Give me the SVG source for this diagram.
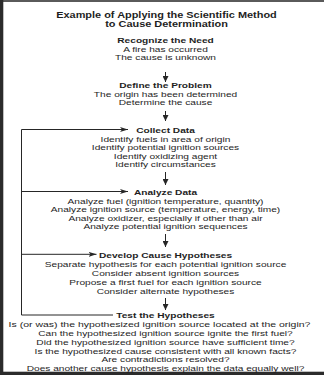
<svg xmlns="http://www.w3.org/2000/svg" width="324" height="375" viewBox="0 0 324 375">
<style>
text{font-family:"Liberation Sans",Arial,sans-serif;fill:#1e1e1e;text-anchor:middle;font-size:7.5px}
.h{font-weight:bold}
.t{font-weight:bold;font-size:8.2px}
.ln{stroke:#262626;stroke-width:1;fill:none}
</style>
<defs>
<marker id="down" markerUnits="userSpaceOnUse" markerWidth="6" markerHeight="6" refX="6" refY="3" orient="auto"><path d="M0,0 L6,3 L0,6 z" fill="#262626"/></marker>
<marker id="barb" markerUnits="userSpaceOnUse" markerWidth="8" markerHeight="6" refX="8" refY="3" orient="auto"><path d="M0,0.5 L8,3 L0,5.5 L2,3 z" fill="#262626"/></marker>
</defs>
<rect width="324" height="375" fill="#ffffff"/>
<rect x="0" y="0" width="324" height="2" fill="#5a5a5a"/>
<rect x="0" y="0" width="3.3" height="375" fill="#2b2b2b"/>
<rect x="0" y="371.7" width="324" height="3.3" fill="#2b2b2b"/>
<g id="title" transform="translate(166.5 0) scale(1.334 1)">
<text class="t" x="0" y="18">Example of Applying the Scientific Method</text>
<text class="t" x="0" y="27.5">to Cause Determination</text>
</g>
<g id="recognize" transform="translate(165.5 0) scale(1.355 1)">
<text class="h" x="0" y="43">Recognize the Need</text>
<text x="0" y="52">A fire has occurred</text>
<text x="0" y="60.5">The cause is unknown</text>
</g>
<g id="define" transform="translate(165.5 0) scale(1.355 1)">
<text class="h" x="0" y="88.5">Define the Problem</text>
<text x="0" y="97">The origin has been determined</text>
<text x="0" y="105.5">Determine the cause</text>
</g>
<g id="collect" transform="translate(165.5 0) scale(1.355 1)">
<text class="h" x="0" y="133">Collect Data</text>
<text x="0" y="142">Identify fuels in area of origin</text>
<text x="0" y="150.5">Identify potential ignition sources</text>
<text x="0" y="159">Identify oxidizing agent</text>
<text x="0" y="167.5">Identify circumstances</text>
</g>
<g id="analyze" transform="translate(165.5 0) scale(1.355 1)">
<text class="h" x="0" y="195">Analyze Data</text>
<text x="0" y="204">Analyze fuel (ignition temperature, quantity)</text>
<text x="0" y="212.5">Analyze ignition source (temperature, energy, time)</text>
<text x="0" y="221">Analyze oxidizer, especially if other than air</text>
<text x="0" y="229.5">Analyze potential ignition sequences</text>
</g>
<g id="develop" transform="translate(165.5 0) scale(1.355 1)">
<text class="h" x="0" y="258">Develop Cause Hypotheses</text>
<text x="0" y="267.3">Separate hypothesis for each potential ignition source</text>
<text x="0" y="276.2">Consider absent ignition sources</text>
<text x="0" y="285.1">Propose a first fuel for each ignition source</text>
<text x="0" y="294">Consider alternate hypotheses</text>
</g>
<g id="test">
<g transform="translate(165.5 0) scale(1.355 1)">
<text class="h" x="0" y="318.5">Test the Hypotheses</text>
</g>
<g transform="translate(159.5 0) scale(1.4 1)">
<text x="0" y="327.5">Is (or was) the hypothesized ignition source located at the origin?</text>
</g>
<g transform="translate(165.5 0) scale(1.355 1)">
<text x="0" y="336.2">Can the hypothesized ignition source ignite the first fuel?</text>
<text x="0" y="344.9">Did the hypothesized ignition source have sufficient time?</text>
<text x="0" y="353.6">Is the hypothesized cause consistent with all known facts?</text>
<text x="0" y="362.3">Are contradictions resolved?</text>
<text x="0" y="371">Does another cause hypothesis explain the data equally well?</text>
</g>
</g>
<g id="connectors">
<line class="ln" x1="165.5" y1="72" x2="165.5" y2="82" marker-end="url(#down)"/>
<line class="ln" x1="165.5" y1="111" x2="165.5" y2="121" marker-end="url(#down)"/>
<line class="ln" x1="165.5" y1="172" x2="165.5" y2="185" marker-end="url(#down)"/>
<line class="ln" x1="165.5" y1="234" x2="165.5" y2="247" marker-end="url(#down)"/>
<line class="ln" x1="165.5" y1="298" x2="165.5" y2="310" marker-end="url(#down)"/>
<path class="ln" d="M113,315 H21.5 V129.5 H128" marker-end="url(#barb)"/>
<path class="ln" d="M21.5,191.5 H128" marker-end="url(#barb)"/>
<path class="ln" d="M21.5,254.3 H96.5" marker-end="url(#barb)"/>
</g>
</svg>
